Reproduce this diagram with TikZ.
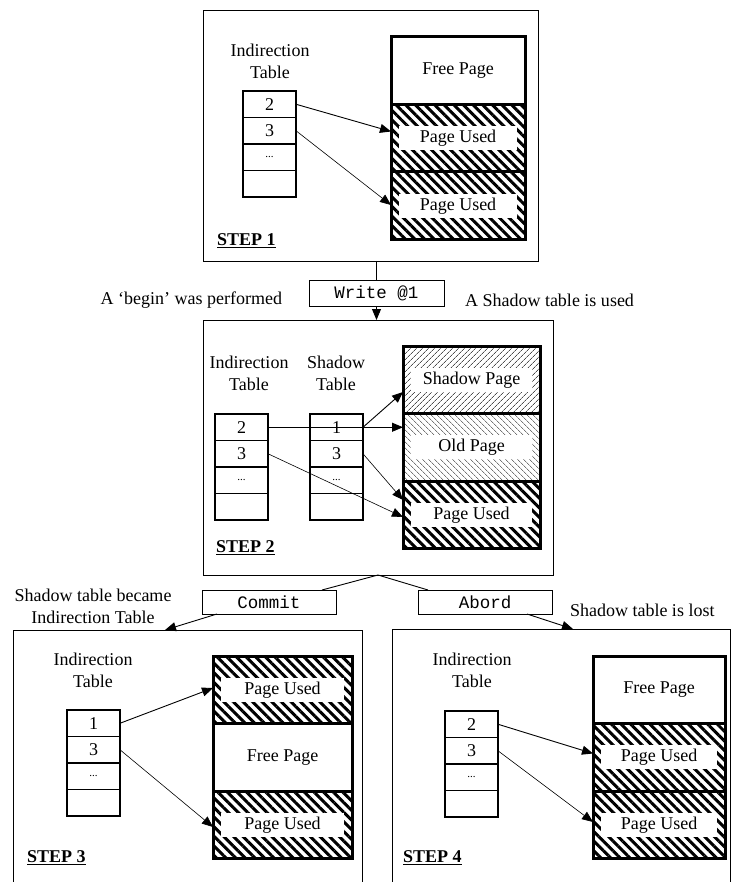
\documentclass[tikz,border=0pt]{standalone}
\usepackage{fontspec}
\setmainfont{Liberation Serif}
\setmonofont{Liberation Mono}
\usetikzlibrary{arrows.meta, positioning, patterns.meta}

\begin{document}
\begin{tikzpicture}[x=1pt, y=-1pt, >={Triangle[length=11pt, width=9pt]},
    every node/.style={font=\fontsize{18}{22}\selectfont, inner sep=0pt, outer sep=0pt},
    frame/.style={draw, line width=0.9pt, anchor=north west},
    cmdbox/.style={draw, line width=0.9pt, anchor=north west, minimum height=24pt,
        font=\fontsize{17.5}{20}\selectfont\ttfamily},
    cell/.style={draw, line width=1.1pt, anchor=north west, minimum width=53pt, minimum height=26.5pt},
    dots/.style={cell, font=\fontsize{11}{13}\selectfont},
    tabname/.style={align=center},
    steplabel/.style={anchor=west, font=\fontsize{18}{22}\selectfont\bfseries},
    page/.style={draw, line width=3pt, anchor=north west, minimum height=67.5pt},
    tagged/.style={path picture={\fill[white] ([xshift=8pt, yshift=12pt]path picture bounding box.west)
        rectangle ([xshift=-8pt, yshift=-12pt]path picture bounding box.east);}},
    usedpage/.style={page, tagged, pattern={Lines[angle=-45, distance=6.8pt, line width=3pt]}},
    shadowpage/.style={page, tagged, pattern={Lines[angle=45, distance=4pt, line width=0.8pt]},
        pattern color=black!70},
    oldpage/.style={page, tagged, pattern={Lines[angle=-45, distance=4pt, line width=0.8pt]},
        pattern color=black!55},
    link/.style={line width=0.9pt},
    ptr/.style={->, line width=0.9pt},
    ptrthin/.style={->, line width=0.6pt}]

    % Page size (pixels of the original figure)
    \useasboundingbox (0,0) rectangle (732,882);
    \clip (0,0) rectangle (732,882);

    % STEP 1: initial state
    \node[frame, minimum width=335pt, minimum height=251pt] (s1) at (203,10) {};
    \node[tabname] (s1it) at (270,61) {Indirection\\Table};
    \node[cell] (s1c1) at (243,91) {2};
    \node[cell] (s1c2) at (243,117.5) {3};
    \node[dots] (s1c3) at (243,144) {...};
    \node[cell] (s1c4) at (243,170.5) {};
    \node[page, minimum width=134pt] (s1p1) at (391,37) {Free Page};
    \node[usedpage, minimum width=134pt] (s1p2) at (391,104.5) {Page Used};
    \node[usedpage, minimum width=134pt] (s1p3) at (391,172) {Page Used};
    \node[steplabel] (s1st) at (217,241) {\underline{STEP 1}};
    \draw[ptr] (s1c1.east) -- ([yshift=-27pt]s1p2.north west);
    \draw[ptrthin] (s1c2.east) -- ([yshift=-33pt]s1p3.north west);

    % Write command
    \node[cmdbox, minimum width=135pt, minimum height=26pt] (wr) at (309,280) {Write @1};
    \node[anchor=east] (beg) at (282,300) {A `begin' was performed};
    \node[anchor=west] (shu) at (465,300) {A Shadow table is used};

    % STEP 2: shadow table in use
    \node[frame, minimum width=350pt, minimum height=255pt] (s2) at (203,320) {};
    \node[tabname] (s2it) at (249,373) {Indirection\\Table};
    \node[tabname] (s2st) at (336,373) {Shadow\\Table};
    \node[cell] (s2c1) at (215,414) {2};
    \node[cell] (s2c2) at (215,440.5) {3};
    \node[dots] (s2c3) at (215,467) {...};
    \node[cell] (s2c4) at (215,493.5) {};
    \node[cell] (s2d1) at (310,414) {1};
    \node[cell] (s2d2) at (310,440.5) {3};
    \node[dots] (s2d3) at (310,467) {...};
    \node[cell] (s2d4) at (310,493.5) {};
    \node[shadowpage, minimum width=137pt] (s2p1) at (403,346) {Shadow Page};
    \node[oldpage, minimum width=137pt] (s2p2) at (403,413.5) {Old Page};
    \node[usedpage, minimum width=137pt] (s2p3) at (403,481) {Page Used};
    \node[steplabel] (s2st) at (216,548) {\underline{STEP 2}};
    \draw[ptr] (s2c1.east) -- (s2c1.east -| s2p2.west);
    \draw[ptr] (s2d1.east) -- ([yshift=-46pt]s2p1.north west);
    \draw[ptrthin] (s2c2.east) -- ([yshift=-36pt]s2p3.north west);
    \draw[ptrthin] (s2d2.east) -- ([yshift=-19pt]s2p3.north west);

    % Step 1 -> Step 2
    \draw[link] (wr.north |- s1.south) -- (wr.north);
    \draw[ptr] (wr.south) -- (wr.south |- s2.north);

    % Commit / Abord commands
    \node[cmdbox, minimum width=134pt] (cm) at (202,590) {Commit};
    \node[cmdbox, minimum width=134pt] (ab) at (418,590) {Abord};
    \node[align=center] (bec) at (93,606) {Shadow table became\\Indirection Table};
    \node[anchor=west] (lost) at (570,610) {Shadow table is lost};

    % STEP 3: after commit
    \node[frame, minimum width=349pt, minimum height=270pt] (s3) at (13,630) {};
    \node[tabname] (s3it) at (93,670) {Indirection\\Table};
    \node[cell] (s3c1) at (67,710) {1};
    \node[cell] (s3c2) at (67,736.5) {3};
    \node[dots] (s3c3) at (67,763) {...};
    \node[cell] (s3c4) at (67,789.5) {};
    \node[usedpage, minimum width=139pt] (s3p1) at (213,656) {Page Used};
    \node[page, minimum width=139pt] (s3p2) at (213,723.5) {Free Page};
    \node[usedpage, minimum width=139pt] (s3p3) at (213,791) {Page Used};
    \node[steplabel] (s3st) at (27,858) {\underline{STEP 3}};
    \draw[ptr] (s3c1.east) -- ([yshift=-32pt]s3p1.north west);
    \draw[ptrthin] (s3c2.east) -- ([yshift=-36pt]s3p3.north west);

    % STEP 4: after abord
    \node[frame, minimum width=338.5pt, minimum height=270pt] (s4) at (392,629) {};
    \node[tabname] (s4it) at (472,670) {Indirection\\Table};
    \node[cell] (s4c1) at (445,711) {2};
    \node[cell] (s4c2) at (445,737.5) {3};
    \node[dots] (s4c3) at (445,764) {...};
    \node[cell] (s4c4) at (445,790.5) {};
    \node[page, minimum width=132pt] (s4p1) at (593,656) {Free Page};
    \node[usedpage, minimum width=132pt] (s4p2) at (593,723.5) {Page Used};
    \node[usedpage, minimum width=132pt] (s4p3) at (593,791) {Page Used};
    \node[steplabel] (s4st) at (403,858) {\underline{STEP 4}};
    \draw[ptr] (s4c1.east) -- ([yshift=-30pt]s4p2.north west);
    \draw[ptrthin] (s4c2.east) -- ([yshift=-31pt]s4p3.north west);

    % Step 2 -> Step 3 / Step 4
    \draw[link] ([xshift=-14pt]cm.north east) -- (s2.south) -- ([xshift=10pt]ab.north west);
    \draw[ptr] ([xshift=15pt]cm.south west) -- ([xshift=152pt]s3.north west);
    \draw[ptr] ([xshift=109pt]ab.south west) -- ([xshift=181pt]s4.north west);

\end{tikzpicture}
\end{document}
